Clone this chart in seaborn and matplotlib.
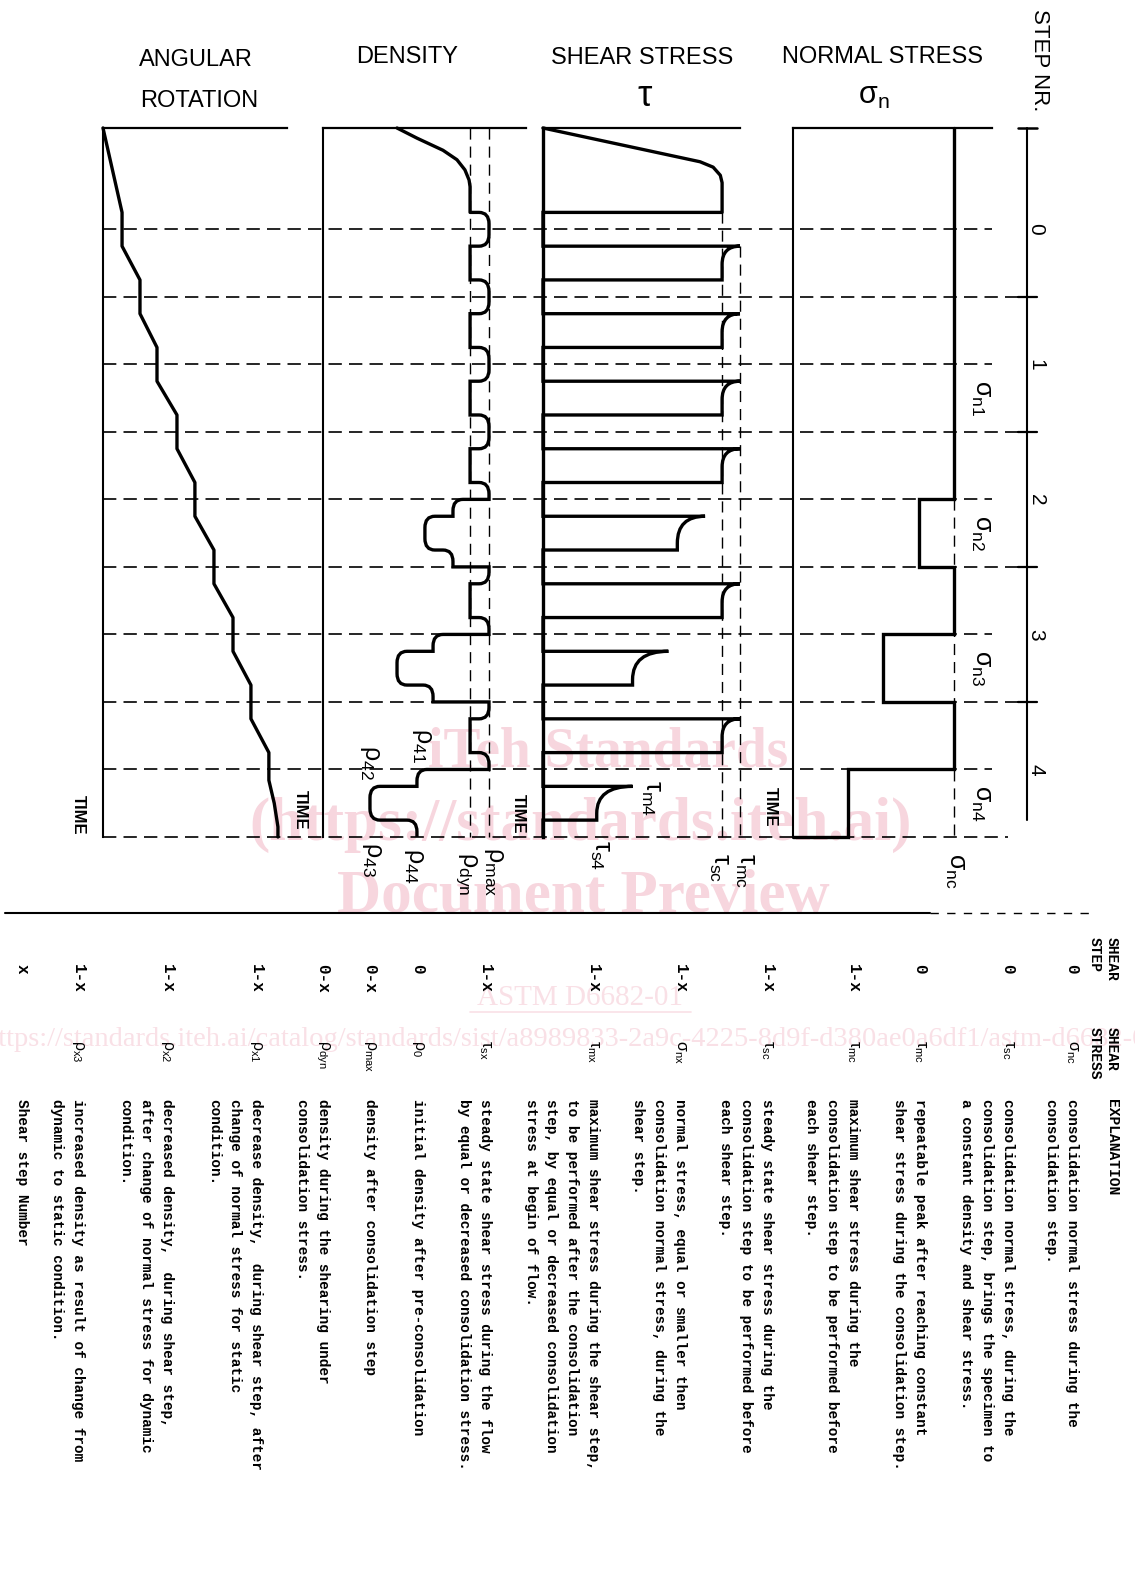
import matplotlib
matplotlib.use("Agg")
import matplotlib.pyplot as plt
from matplotlib.path import Path
from matplotlib.patches import PathPatch
from matplotlib.lines import Line2D
import numpy as np
import pandas as pd
import seaborn as sns

sns.set_style("white")
plt.rcParams["font.family"] = ["Liberation Sans", "DejaVu Sans"]
plt.rcParams["text.color"] = "black"
plt.rcParams["mathtext.fontset"] = "custom"
plt.rcParams["mathtext.rm"] = "Liberation Sans"
plt.rcParams["mathtext.it"] = "Liberation Sans"
plt.rcParams["mathtext.bf"] = "Liberation Sans:bold"
plt.rcParams["mathtext.default"] = "regular"

# ---------------- data ----------------
T_END = 10.5
step_numbers = [0, 1, 2, 3, 4]
step_label_times = [1.5, 3.5, 5.5, 7.5, 9.5]
step_tick_times = [2.5, 4.5, 6.5, 8.5]

# normal stress (sigma_nc = 100)
sigma_times = [0, 5.5, 6.5, 7.5, 8.5, 9.5, 10.5]
sigma_levels = [100, 78, 100, 56, 100, 34]
sigma_labels = ["σ_{n1}", "σ_{n2}", "σ_{n3}", "σ_{n4}"]
sigma_label_times = [4.0, 6.0, 8.0, 10.0]
SIGMA_NC = 100

# shear stress (tau_sc = 100)
TAU_SC, TAU_MC = 100, 110
tau_initial_t = [0, 0.50, 0.58, 0.70, 0.81, 1.25]
tau_initial_v = [0, 87.7, 95, 99, 100, 100]
pulse_start = [1.75, 2.75, 3.75, 4.75, 5.75, 6.75, 7.75, 8.75, 9.75]
pulse_end = [2.25, 3.25, 4.25, 5.25, 6.25, 7.25, 8.25, 9.25, 10.25]
pulse_peak = [110, 110, 110, 110, 90.5, 110, 70, 110, 50]
pulse_steady = [100, 100, 100, 100, 75, 100, 50, 100, 30]
pulse_decay = [0.27, 0.27, 0.27, 0.27, 0.40, 0.27, 0.42, 0.27, 0.40]

# density (rho_max = 100)
RHO_MAX, RHO_DYN = 100, 88.6
rho_initial_t = [0, 0.15, 0.33, 0.47, 0.62, 0.77, 0.87, 1.25]
rho_initial_v = [44.6, 56.6, 72.3, 80.7, 85.5, 88.0, 88.6, 88.6]
RHO_S2, RHO_D2 = 78.3, 61.4
RHO_S3, RHO_D3 = 66.3, 44.6
RHO_S4, RHO_D4 = 56.6, 28.3
rho_event_t = [1.25, 1.75, 2.25, 2.75, 3.25, 3.75, 4.25, 4.75, 5.25,
               5.5, 5.75, 6.25, 6.5, 6.75, 7.25,
               7.5, 7.75, 8.25, 8.5, 8.75, 9.25,
               9.5, 9.75, 10.25]
rho_event_level = [RHO_MAX, RHO_DYN, RHO_MAX, RHO_DYN, RHO_MAX, RHO_DYN, RHO_MAX, RHO_DYN, RHO_MAX,
                   RHO_S2, RHO_D2, RHO_S2, RHO_MAX, RHO_DYN, RHO_MAX,
                   RHO_S3, RHO_D3, RHO_S3, RHO_MAX, RHO_DYN, RHO_MAX,
                   RHO_S4, RHO_D4, RHO_S4]
rho_event_kind = ["in", "out", "in", "out", "in", "out", "in", "out", "in",
                  "in", "in", "both", "sharp", "out", "in",
                  "in", "in", "both", "sharp", "out", "in",
                  "in", "in", "both"]

# angular rotation
rot_t = [0, 1.25, 1.75, 2.25, 2.75, 3.25, 3.75, 4.25, 4.75, 5.25, 5.75, 6.25,
         6.75, 7.25, 7.75, 8.25, 8.75, 9.25, 9.66, 10.0, 10.35, 10.5]
rot_v = [0, 10.3, 10.3, 20, 20, 29.2, 29.2, 40, 40, 49.7, 49.7, 60,
         60, 70.3, 70.3, 80, 80, 89.7, 89.7, 92.6, 94.6, 94.6]

# table
table_steps = ["0", "0", "0", "1-x", "1-x", "1-x", "1-x", "1-x", "0", "0-x", "0-x",
               "1-x", "1-x", "1-x", "x"]
table_symbols = ["σ_{nc}", "τ_{sc}", "τ_{mc}", "τ_{mc}", "τ_{sc}", "σ_{nx}", "τ_{mx}",
                 "τ_{sx}", "ρ_{0}", "ρ_{max}", "ρ_{dyn}", "ρ_{x1}", "ρ_{x2}", "ρ_{x3}", ""]
table_texts = [
    ["consolidation normal stress during the", "consolidation step."],
    ["consolidation normal stress, during the", "consolidation step, brings the specimen to",
     "a constant density and shear stress."],
    ["repeatable peak after reaching constant", "shear stress during the consolidation step."],
    ["maximum shear stress during the", "consolidation step to be performed before",
     "each shear step."],
    ["steady state shear stress during the", "consolidation step to be performed before",
     "each shear step."],
    ["normal stress, equal or smaller then", "consolidation normal stress, during the",
     "shear step."],
    ["maximum shear stress during the shear step,", "to be performed after the consolidation",
     "step, by equal or decreased consolidation", "stress at begin of flow."],
    ["steady state shear stress during the flow", "by equal or decreased consolidation stress."],
    ["initial density after pre-consolidation"],
    ["density after consolidation step"],
    ["density during the shearing under", "consolidation stress."],
    ["decrease density,  during shear step, after", "change of normal stress for static",
     "condition."],
    ["decreased density,  during shear step,", "after change of normal stress for dynamic",
     "condition."],
    ["increased density as result of change from", "dynamic to static condition."],
    ["Shear step Number"],
]

# ---------------- layout ----------------
W, H = 1135, 1579
Y_TOP, Y_BOT = 128, 837
fig = plt.figure(figsize=(W / 100, H / 100), dpi=100)
fig.patch.set_facecolor("white")


def ftext(x, y, s, **kw):
    fig.text(x / W, 1 - y / H, s, **kw)


bg = fig.add_axes([0, 1 - Y_BOT / H, 1, (Y_BOT - Y_TOP) / H])
bg.set_xlim(0, W)
bg.set_ylim(T_END, 0)
bg.set_facecolor("none")
bg.axis("off")


def panel(x0, x1, xmax, spine_lw=1.5):
    ax = fig.add_axes([x0 / W, 1 - Y_BOT / H, (x1 - x0) / W, (Y_BOT - Y_TOP) / H])
    ax.set_facecolor("none")
    ax.set_xticks([])
    ax.set_yticks([])
    for s in ["right", "bottom"]:
        ax.spines[s].set_visible(False)
    ax.spines["left"].set_linewidth(spine_lw)
    ax.spines["top"].set_linewidth(1.6)
    for s in ["left", "top"]:
        ax.spines[s].set_color("black")
    return ax, xmax


HD = dict(color="black", lw=1.2, linestyle=(0, (8, 4.3)), clip_on=False)
VD = dict(color="black", lw=1.0, linestyle=(0, (8, 5)), clip_on=False)
LW = 2.4

# step boundary dashed lines
for t in step_label_times:
    bg.plot([103, 992], [t, t], **HD)
for t in step_tick_times:
    bg.plot([103, 1018], [t, t], **HD)
    bg.plot([1018, 1037], [t, t], color="black", lw=1.6, clip_on=False)
bg.plot([103, 1008], [T_END, T_END], **HD)
bg.plot([1027, 1027], [0, 10.25], color="black", lw=1.5, clip_on=False)
bg.plot([1018, 1037], [0, 0], color="black", lw=1.8, clip_on=False)
for n, t in zip(step_numbers, step_label_times):
    bg.text(1036, t, str(n), rotation=-90, ha="center", va="center", fontsize=15)

# ---- normal stress panel ----
axn, xm = panel(793, 992, 123.6)
sx, sy = [], []
for i, lev in enumerate(sigma_levels):
    sx += [lev, lev]
    sy += [sigma_times[i], sigma_times[i + 1]]
sx.append(0)
sy.append(T_END)
sns.lineplot(data=pd.DataFrame({"stress": sx, "time": sy}), x="stress", y="time",
             sort=False, estimator=None, ax=axn, color="black", linewidth=LW)
axn.lines[-1].set_clip_on(False)
axn.lines[-1].set_solid_joinstyle("miter")
axn.plot([SIGMA_NC, SIGMA_NC], [sigma_times[1], T_END], **VD)
axn.set_xlim(0, xm)
axn.set_ylim(T_END, 0)
axn.set_xlabel("")
axn.set_ylabel("")
for lab, t in zip(sigma_labels, sigma_label_times):
    bg.text(981, t, f"${lab}$", rotation=-90, ha="center", va="center", fontsize=18)
bg.text(955, 11.0, "$σ_{nc}$", rotation=-90, ha="center", va="center", fontsize=18)
bg.text(770, 10.05, "TIME", rotation=-90, ha="center", va="center", fontsize=12, weight="bold")

# ---- shear stress panel ----
axs, xm = panel(543, 740, TAU_MC, spine_lw=2.4)
sns.lineplot(data=pd.DataFrame({"tau": tau_initial_v, "time": tau_initial_t}), x="tau", y="time",
             sort=False, estimator=None, ax=axs, color="black", linewidth=LW)
axs.lines[-1].set_clip_on(False)
L, C3, M = Path.LINETO, Path.CURVE3, Path.MOVETO
verts = [(TAU_SC, 1.25), (0, 1.25)]
codes = [M, L]
for ts, te, pk, st, d in zip(pulse_start, pulse_end, pulse_peak, pulse_steady, pulse_decay):
    verts += [(0, ts), (pk, ts), (st, ts), (st, ts + d), (st, te), (0, te)]
    codes += [L, L, C3, C3, L, L]
verts.append((0, T_END))
codes.append(L)
axs.add_patch(PathPatch(Path(verts, codes), facecolor="none", edgecolor="black", lw=LW,
                        joinstyle="miter", capstyle="butt", clip_on=False))
axs.plot([TAU_SC, TAU_SC], [1.25, T_END], **VD)
axs.plot([TAU_MC, TAU_MC], [pulse_start[0], T_END], **VD)
axs.set_xlim(0, xm)
axs.set_ylim(T_END, 0)
axs.set_xlabel("")
axs.set_ylabel("")
bg.text(651, 9.92, "$τ_{m4}$", rotation=-90, ha="center", va="center", fontsize=18)
bg.text(600, 10.77, "$τ_{s4}$", rotation=-90, ha="center", va="center", fontsize=18)
bg.text(719, 10.96, "$τ_{sc}$", rotation=-90, ha="center", va="center", fontsize=18)
bg.text(745, 10.99, "$τ_{mc}$", rotation=-90, ha="center", va="center", fontsize=18)
bg.text(518, 10.15, "TIME", rotation=-90, ha="center", va="center", fontsize=12, weight="bold")

# ---- density panel ----
axd, xm = panel(323, 526, 122.3)
sns.lineplot(data=pd.DataFrame({"rho": rho_initial_v, "time": rho_initial_t}), x="rho", y="time",
             sort=False, estimator=None, ax=axd, color="black", linewidth=LW)
axd.lines[-1].set_clip_on(False)
CORNER_W, CORNER_R = 6.0, 0.17
cur = RHO_DYN
verts = [(cur, 1.25)]
codes = [M]
for t, lev, k in zip(rho_event_t, rho_event_level, rho_event_kind):
    s = np.sign(lev - cur)
    dd = abs(lev - cur)
    if k == "in":
        cw = min(CORNER_W, 0.6 * dd)
        verts += [(cur, t), (lev - s * cw, t), (lev, t), (lev, t + CORNER_R)]
        codes += [L, L, C3, C3]
    elif k == "out":
        cw = min(CORNER_W, 0.6 * dd)
        verts += [(cur, t - CORNER_R), (cur, t), (cur + s * cw, t), (lev, t)]
        codes += [L, C3, C3, L]
    elif k == "both":
        cw = min(CORNER_W, 0.4 * dd)
        verts += [(cur, t - CORNER_R), (cur, t), (cur + s * cw, t), (lev - s * cw, t),
                  (lev, t), (lev, t + CORNER_R)]
        codes += [L, C3, C3, L, C3, C3]
    else:
        verts += [(cur, t), (lev, t)]
        codes += [L, L]
    cur = lev
verts.append((cur, T_END))
codes.append(L)
axd.add_patch(PathPatch(Path(verts, codes), facecolor="none", edgecolor="black", lw=LW,
                        joinstyle="miter", capstyle="butt", clip_on=False))
axd.plot([RHO_DYN, RHO_DYN], [0, T_END], **VD)
axd.plot([RHO_MAX, RHO_MAX], [0, T_END], **VD)
axd.set_xlim(0, xm)
axd.set_ylim(T_END, 0)
axd.set_xlabel("")
axd.set_ylabel("")
bg.text(422, 9.15, "$ρ_{41}$", rotation=-90, ha="center", va="center", fontsize=18)
bg.text(370, 9.39, "$ρ_{42}$", rotation=-90, ha="center", va="center", fontsize=18)
bg.text(372, 10.84, "$ρ_{43}$", rotation=-90, ha="center", va="center", fontsize=18)
bg.text(414, 10.93, "$ρ_{44}$", rotation=-90, ha="center", va="center", fontsize=18)
bg.text(466, 11.05, "$ρ_{dyn}$", rotation=-90, ha="center", va="center", fontsize=18)
bg.text(494, 11.02, "$ρ_{max}$", rotation=-90, ha="center", va="center", fontsize=18)
bg.text(300, 10.1, "TIME", rotation=-90, ha="center", va="center", fontsize=12, weight="bold")

# ---- angular rotation panel ----
axr, xm = panel(103, 287, 99.5)
sns.lineplot(data=pd.DataFrame({"rot": rot_v, "time": rot_t}), x="rot", y="time",
             sort=False, estimator=None, ax=axr, color="black", linewidth=LW)
axr.lines[-1].set_clip_on(False)
axr.set_xlim(0, xm)
axr.set_ylim(T_END, 0)
axr.set_xlabel("")
axr.set_ylabel("")
bg.text(78, 10.17, "TIME", rotation=-90, ha="center", va="center", fontsize=12, weight="bold")

# ---- headers ----
ftext(196, 60, "ANGULAR", ha="center", va="center", fontsize=17)
ftext(199, 101, "ROTATION", ha="center", va="center", fontsize=17)
ftext(407, 57, "DENSITY", ha="center", va="center", fontsize=17)
ftext(642, 58, "SHEAR STRESS", ha="center", va="center", fontsize=17)
ftext(645, 97, "τ", ha="center", va="center", fontsize=26)
ftext(883, 57, "NORMAL STRESS", ha="center", va="center", fontsize=17)
ftext(874, 96, "$σ_{n}$", ha="center", va="center", fontsize=22)
ftext(1039, 60, "STEP NR.", rotation=-90, ha="center", va="center", fontsize=16)

# ---- table ----
MONO = "Liberation Mono"
fig.add_artist(Line2D([5 / W, 930 / W], [1 - 913 / H] * 2, transform=fig.transFigure,
                      color="black", lw=1.5))
fig.add_artist(Line2D([930 / W, 1090 / W], [1 - 913 / H] * 2, transform=fig.transFigure,
                      color="black", lw=1.0, linestyle=(0, (6, 6))))
ftext(1112, 937, "SHEAR", rotation=-90, ha="center", va="top", family=MONO, fontsize=10.5, weight="bold")
ftext(1095, 937, "STEP", rotation=-90, ha="center", va="top", family=MONO, fontsize=10.5, weight="bold")
ftext(1112, 1027, "SHEAR", rotation=-90, ha="center", va="top", family=MONO, fontsize=10.5, weight="bold")
ftext(1095, 1027, "STRESS", rotation=-90, ha="center", va="top", family=MONO, fontsize=10.5, weight="bold")
ftext(1112, 1099, "EXPLANATION", rotation=-90, ha="center", va="top", family=MONO, fontsize=10.5, weight="bold")
row_x = [1072, 1008, 920, 853, 767, 680, 593, 485, 418, 370, 323, 256, 167, 78, 22]
for x, stp, sym, lines in zip(row_x, table_steps, table_symbols, table_texts):
    ftext(x, 964, stp, rotation=-90, ha="center", va="top", family=MONO, fontsize=11.5,
          weight="bold")
    if sym:
        ftext(x, 1040, f"${sym}$", rotation=-90, ha="center", va="top", fontsize=11.5)
    for j, line in enumerate(lines):
        ftext(x - j * 20.8, 1099, line, rotation=-90, ha="center", va="top", family=MONO,
              fontsize=10.4, weight="bold")

# ---- watermark ----
WM = "#f7d6de"
WM2 = "#f9e0e6"
SERIF = "Liberation Serif"
ftext(608, 752, "iTeh Standards", ha="center", va="center", fontsize=40, family=SERIF,
      weight="bold", color=WM, zorder=-1)
ftext(581, 825, "(https://standards.iteh.ai)", ha="center", va="center", fontsize=44,
      family=SERIF, weight="bold", color=WM, zorder=-1)
ftext(583, 897, "Document Preview", ha="center", va="center", fontsize=44, family=SERIF,
      weight="bold", color=WM, zorder=-1)
ftext(580, 998, "ASTM D6682-01", ha="center", va="center", fontsize=21, family=SERIF,
      color=WM2, zorder=-1)
fig.add_artist(Line2D([470 / W, 691 / W], [1 - 1012 / H] * 2, transform=fig.transFigure,
                      color=WM2, lw=1.2, zorder=-1))
ftext(573, 1040,
      "https://standards.iteh.ai/catalog/standards/sist/a8989833-2a9c-4225-8d9f-d380ae0a6df1/astm-d6682-01",
      ha="center", va="center", fontsize=20.5, family=SERIF, color=WM2, zorder=-1)

fig.savefig("out.png", dpi=100)
